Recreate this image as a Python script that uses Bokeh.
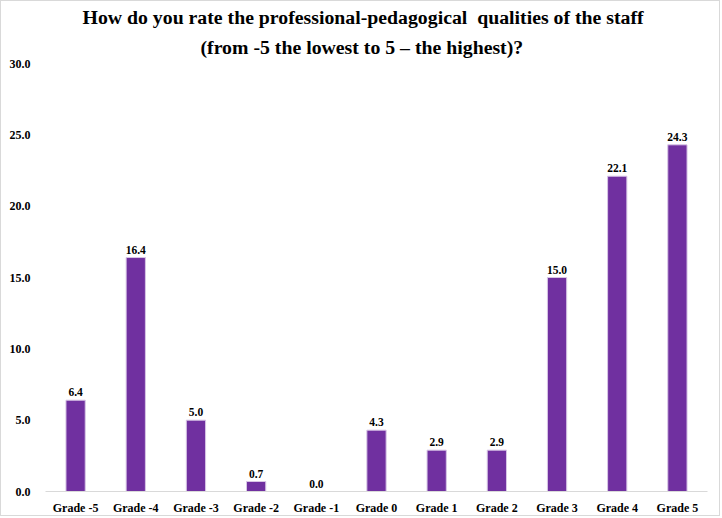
from bokeh.plotting import figure
from bokeh.models import ColumnDataSource, FactorRange, Range1d, FixedTicker, PrintfTickFormatter, Title
from bokeh.core.properties import value
from bokeh.embed import file_html
from bokeh.resources import INLINE

categories = ["Grade -5", "Grade -4", "Grade -3", "Grade -2", "Grade -1", "Grade 0",
              "Grade 1", "Grade 2", "Grade 3", "Grade 4", "Grade 5"]
values = [6.4, 16.4, 5.0, 0.7, 0.0, 4.3, 2.9, 2.9, 15.0, 22.1, 24.3]
y_ticks = [0, 5, 10, 15, 20, 25, 30]
title_lines = ["How do you rate the professional-pedagogical\u00a0 qualities of the staff",
               "(from -5 the lowest to 5 \u2013 the highest)?"]

FONT = "Liberation Serif"
src = ColumnDataSource(dict(cat=categories, val=values, lab=[f"{v:.1f}" for v in values]))

p = figure(width=720, height=516, x_range=FactorRange(*categories, range_padding=0),
           y_range=Range1d(0, 30), output_backend="svg", toolbar_location=None,
           min_border_left=44, min_border_right=14, min_border_top=62, min_border_bottom=22,
           styles={"border": "1px solid #d9d9d9"})
p.title = None
# left-aligned lines shifted so that they are centred on the whole chart, not the frame
offsets = [37, 155]
for t, off, so in reversed(list(zip(title_lines, offsets, [0, 12]))):
    p.add_layout(Title(text=t, align="left", text_font=FONT, text_font_size="19.8px",
                       text_font_style="bold", text_color="#000000",
                       standoff=so, offset=off), "above")

p.vbar(x="cat", top="val", width=0.32, source=src, fill_color="#7030A0",
       line_color="#d8c6e6", line_width=1)
p.text(x="cat", y="val", text="lab", source=src, text_align="center", text_baseline="bottom",
       y_offset=-4, text_font=value(FONT), text_font_size="11.5px", text_font_style="bold",
       text_color="#000000")

p.xgrid.visible = False
p.ygrid.visible = False
p.outline_line_color = None
p.background_fill_color = "white"
p.border_fill_color = "white"

ya = p.yaxis[0]
ya.ticker = FixedTicker(ticks=y_ticks)
ya.formatter = PrintfTickFormatter(format="%.1f")
ya.axis_line_color = None
ya.major_tick_line_color = None
ya.minor_tick_line_color = None
ya.major_label_text_font = FONT
ya.major_label_text_font_size = "12px"
ya.major_label_text_font_style = "bold"
ya.major_label_text_color = "#000000"
ya.major_label_standoff = 9

xa = p.xaxis[0]
xa.axis_line_color = "#d9d9d9"
xa.major_tick_line_color = None
xa.minor_tick_line_color = None
xa.major_label_text_font = FONT
xa.major_label_text_font_size = "12px"
xa.major_label_text_font_style = "bold"
xa.major_label_text_color = "#000000"
xa.major_label_standoff = 3

open("out.html", "w").write(file_html(p, INLINE))
